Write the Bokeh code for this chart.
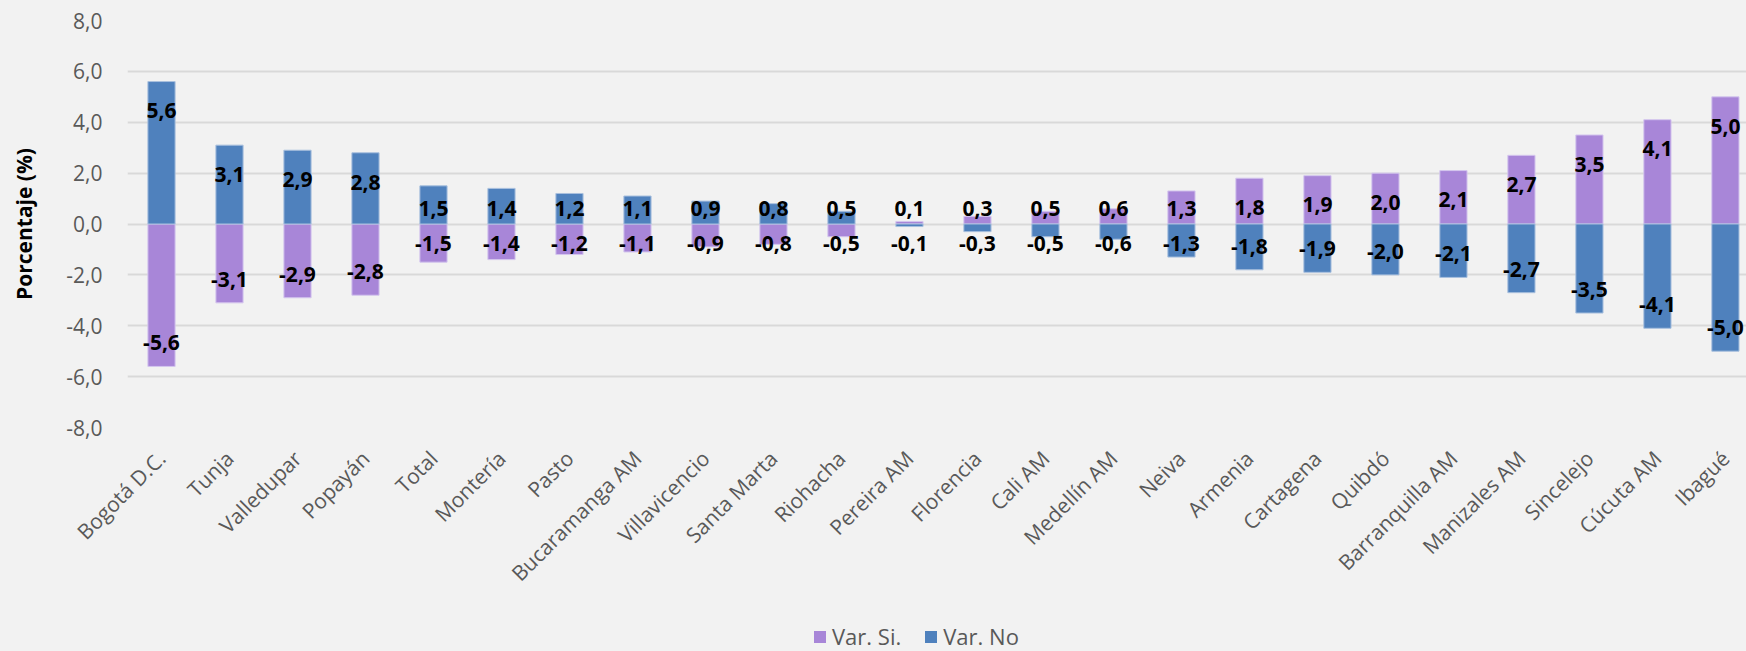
from bokeh.plotting import figure
from bokeh.models import Range1d, FixedTicker, ColumnDataSource, Legend, LegendItem, CustomJSTickFormatter
from bokeh.layouts import column
from bokeh.core.properties import value
from bokeh.embed import file_html
from bokeh.resources import INLINE
import math

cities = ["Bogotá D.C.", "Tunja", "Valledupar", "Popayán", "Total", "Montería", "Pasto",
          "Bucaramanga AM", "Villavicencio", "Santa Marta", "Riohacha", "Pereira AM",
          "Florencia", "Cali AM", "Medellín AM", "Neiva", "Armenia", "Cartagena", "Quibdó",
          "Barranquilla AM", "Manizales AM", "Sincelejo", "Cúcuta AM", "Ibagué"]
var_si = [-5.6, -3.1, -2.9, -2.8, -1.5, -1.4, -1.2, -1.1, -0.9, -0.8, -0.5, 0.1,
          0.3, 0.5, 0.6, 1.3, 1.8, 1.9, 2.0, 2.1, 2.7, 3.5, 4.1, 5.0]
var_no = [5.6, 3.1, 2.9, 2.8, 1.5, 1.4, 1.2, 1.1, 0.9, 0.8, 0.5, -0.1,
          -0.3, -0.5, -0.6, -1.3, -1.8, -1.9, -2.0, -2.1, -2.7, -3.5, -4.1, -5.0]
y_ticks = [-8, -6, -4, -2, 0, 2, 4, 6, 8]

PURPLE = "#a886d8"
BLUE = "#4f81bd"
FONT = "Open Sans"
BG = "#f2f2f2"
W = 1746

x = list(range(len(cities)))

def label_pos(v):
    if v >= 0:
        return max(v - 1.15, 0.6)
    return min(v + 0.93, -0.75)

def fmt(v):
    return ("%.1f" % v).replace(".", ",")

src = ColumnDataSource(dict(
    x=x, si=var_si, no=var_no,
    si_lab=[fmt(v) for v in var_si], no_lab=[fmt(v) for v in var_no],
    si_y=[label_pos(v) for v in var_si], no_y=[label_pos(v) for v in var_no],
))

p = figure(width=W, height=600, output_backend="svg", toolbar_location=None,
           x_range=Range1d(-0.5, 23.31), y_range=Range1d(-8, 8),
           background_fill_color=BG, border_fill_color=BG,
           min_border_left=127, min_border_right=0, min_border_top=20, min_border_bottom=173)
p.outline_line_color = None

r_si = p.vbar(x="x", top="si", bottom=0, width=0.4, source=src,
              fill_color=PURPLE, line_color="#d4c6ee", line_width=1)
r_no = p.vbar(x="x", top="no", bottom=0, width=0.4, source=src,
              fill_color=BLUE, line_color="#a9c0de", line_width=1)

for col_y, col_t in (("si_y", "si_lab"), ("no_y", "no_lab")):
    p.text(x="x", y=col_y, text=col_t, source=src, text_align="center",
           text_baseline="middle", text_font=value(FONT), text_font_size="21px",
           text_font_style="bold", text_color="black")

# y axis
p.yaxis.ticker = FixedTicker(ticks=y_ticks)
p.yaxis.formatter = CustomJSTickFormatter(code="return tick.toFixed(1).replace('.', ',');")
p.yaxis.axis_label = "Porcentaje (%)"
p.yaxis.axis_label_text_font = FONT
p.yaxis.axis_label_text_font_size = "21px"
p.yaxis.axis_label_text_font_style = "bold"
p.yaxis.axis_label_text_color = "black"
p.yaxis.axis_label_standoff = 25
p.yaxis.major_label_text_font = FONT
p.yaxis.major_label_text_font_size = "21px"
p.yaxis.major_label_text_color = "#595959"
p.yaxis.major_label_standoff = 25
p.yaxis.axis_line_color = None
p.yaxis.major_tick_line_color = None
p.yaxis.minor_tick_line_color = None
p.yaxis.major_tick_out = 0
p.yaxis.major_tick_in = 0
p.yaxis.minor_tick_out = 0

# x axis
p.xaxis.ticker = FixedTicker(ticks=x)
p.xaxis.major_label_overrides = {i: c for i, c in enumerate(cities)}
p.xaxis.major_label_orientation = math.pi / 4
p.xaxis.major_label_text_font = FONT
p.xaxis.major_label_text_font_size = "21px"
p.xaxis.major_label_text_color = "#595959"
p.xaxis.major_label_standoff = 27
p.xaxis.axis_line_color = None
p.xaxis.major_tick_line_color = None
p.xaxis.minor_tick_line_color = None
p.xaxis.major_tick_out = 0
p.xaxis.major_tick_in = 0
p.xaxis.minor_tick_out = 0

p.xgrid.grid_line_color = None
p.ygrid.grid_line_color = "#d9d9d9"
p.ygrid.grid_line_width = 2

# legend strip (same data, drawn off-range so only the legend shows)
p2 = figure(width=W, height=51, output_backend="svg", toolbar_location=None,
            x_axis_type=None, y_axis_type=None,
            x_range=Range1d(-0.5, 23.31), y_range=Range1d(100, 101),
            background_fill_color=BG, border_fill_color=BG,
            min_border_left=0, min_border_right=0, min_border_top=0, min_border_bottom=0)
p2.outline_line_color = None
p2.grid.visible = False
l_si = p2.vbar(x="x", top="si", bottom=0, width=0.4, source=src, fill_color=PURPLE, line_color=None)
l_no = p2.vbar(x="x", top="no", bottom=0, width=0.4, source=src, fill_color=BLUE, line_color=None)

legend = Legend(items=[LegendItem(label="Var. Si.", renderers=[l_si]),
                       LegendItem(label="Var. No", renderers=[l_no])],
                location=(685, 0), orientation="horizontal",
                background_fill_alpha=0, border_line_color=None,
                label_text_font=FONT, label_text_font_size="22px", label_text_color="#595959",
                glyph_width=15, glyph_height=15, spacing=22, padding=0, margin=0,
                label_standoff=5)
p2.add_layout(legend, "center")

layout = column(p, p2, spacing=0, styles={"background-color": BG})
open("out.html", "w").write(file_html(layout, INLINE))
